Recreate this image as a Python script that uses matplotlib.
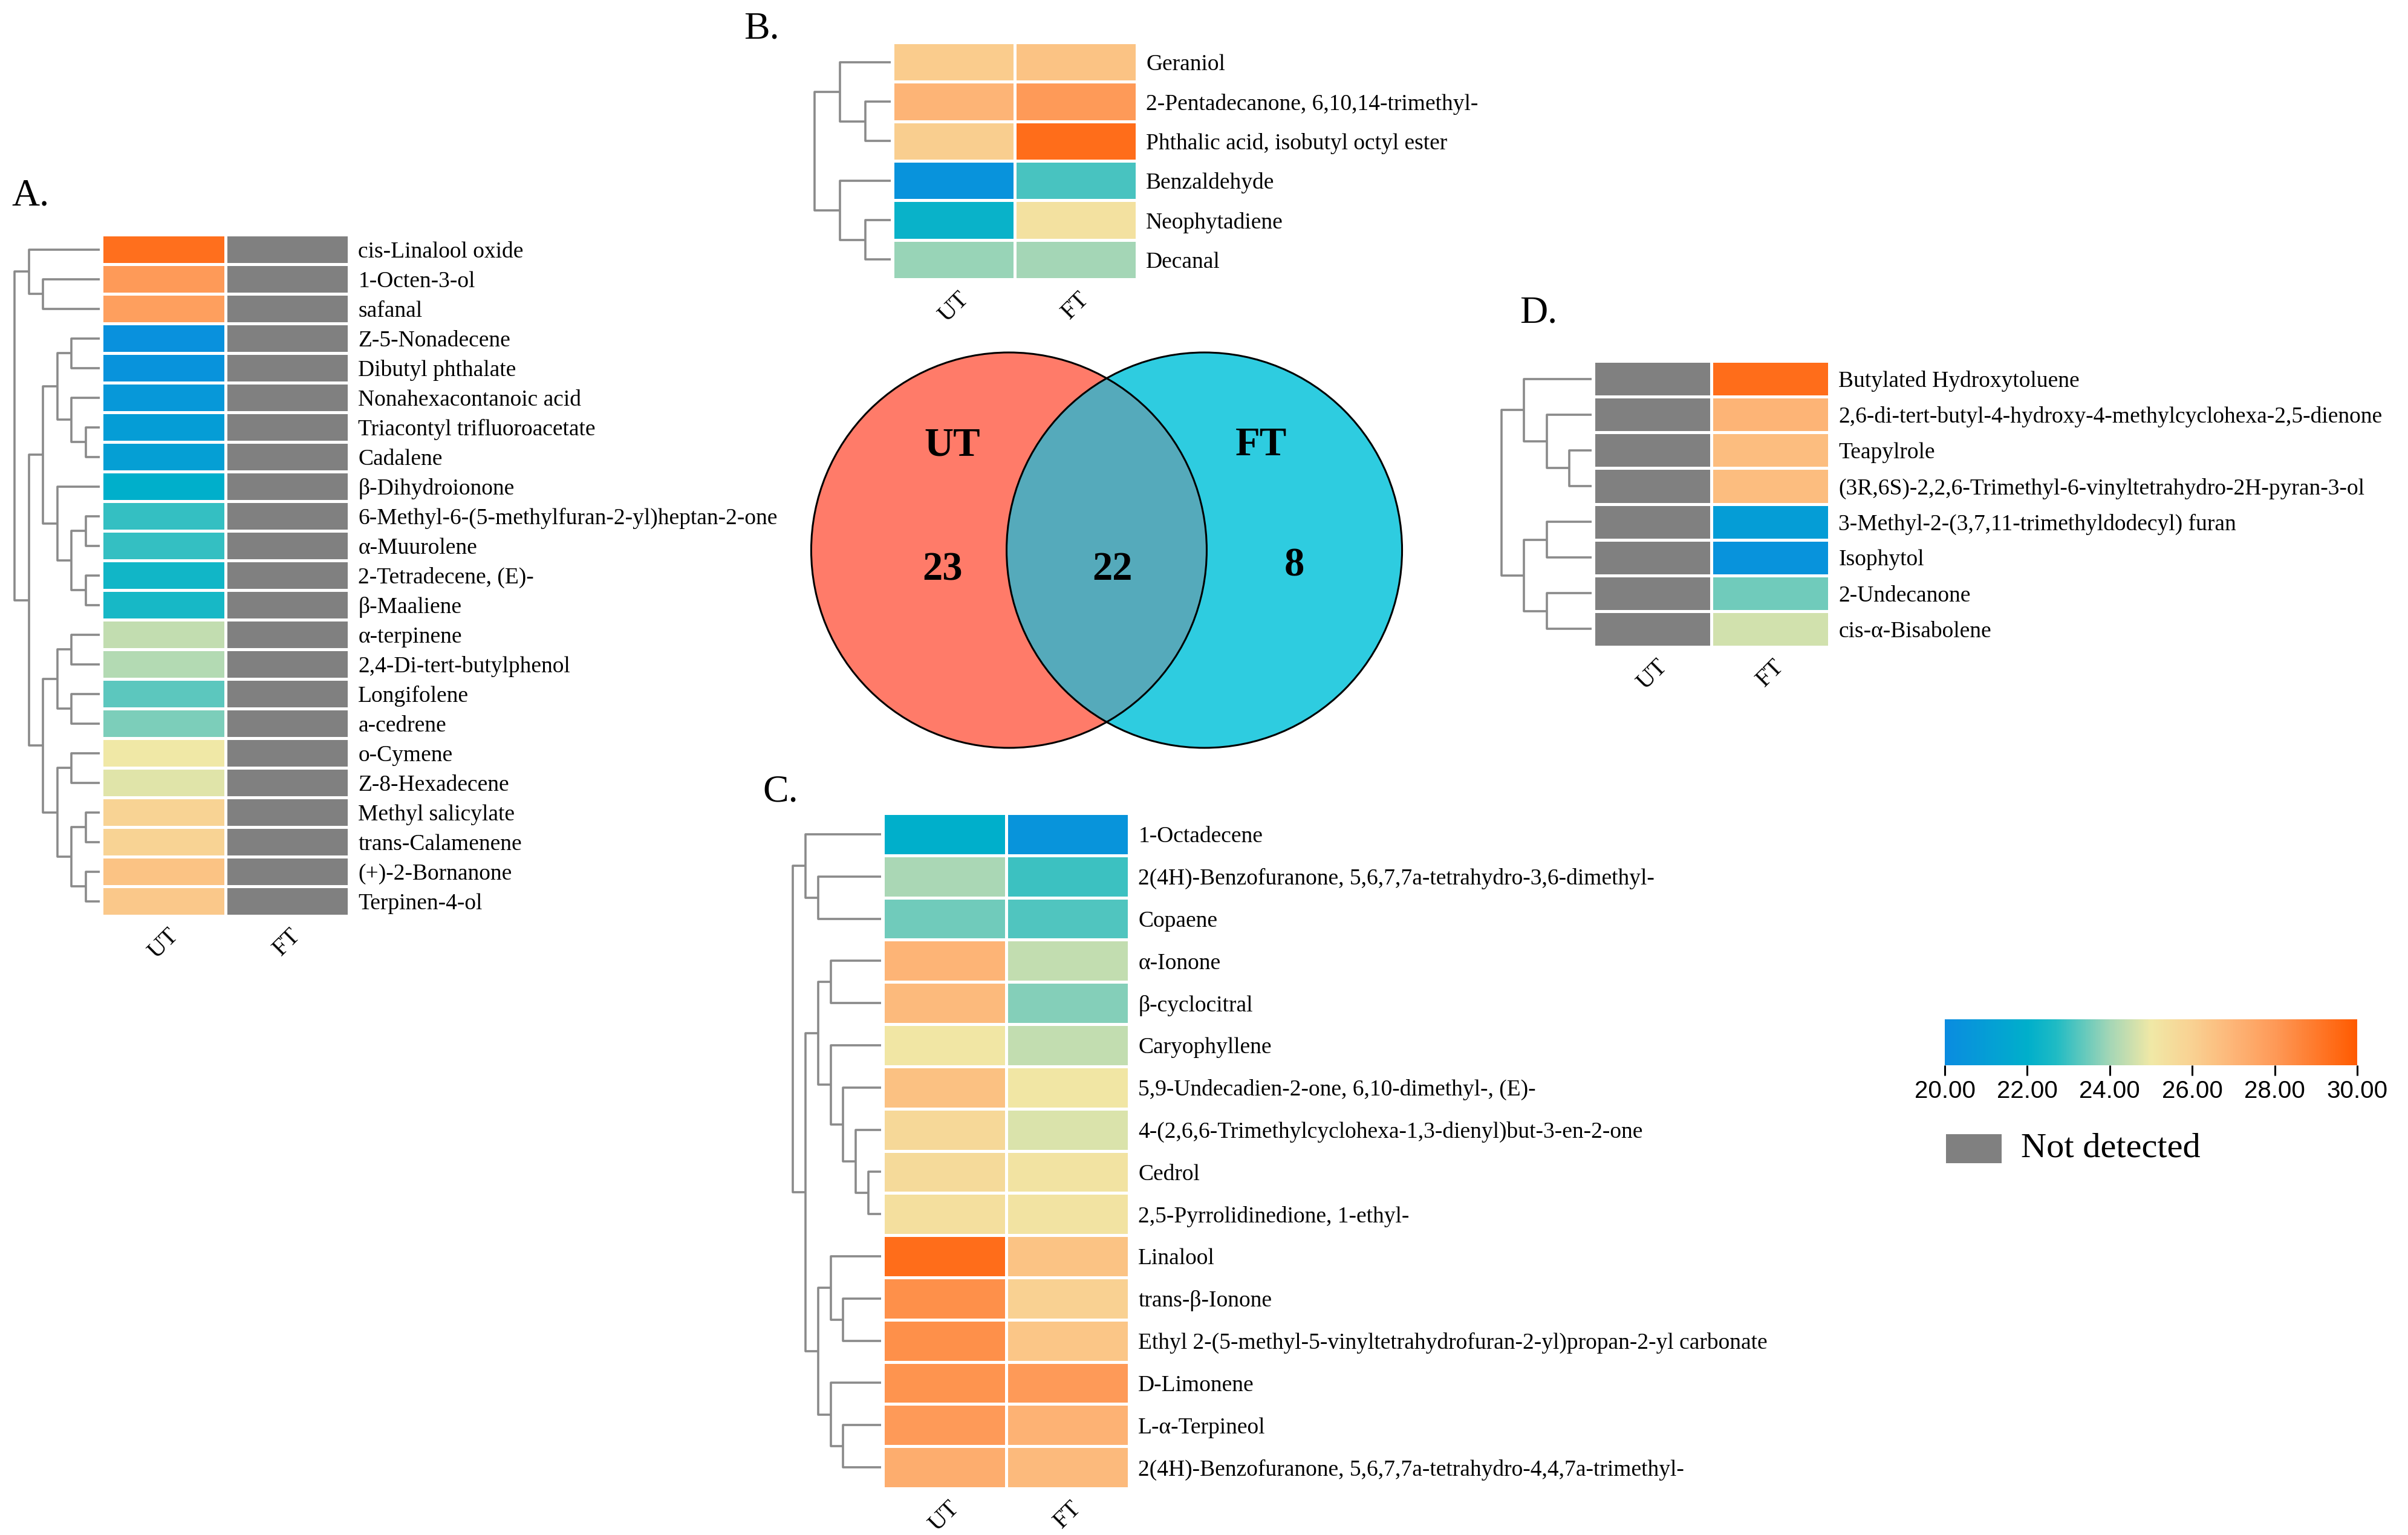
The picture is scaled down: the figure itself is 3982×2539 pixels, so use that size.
import numpy as np
import matplotlib
matplotlib.use('Agg')
from matplotlib import pyplot as plt
from matplotlib import colors, cm
from matplotlib.patches import Circle, Rectangle

# ---- data ----
cols = ['UT', 'FT']

names_A = ['cis-Linalool oxide', '1-Octen-3-ol', 'safanal', 'Z-5-Nonadecene', 'Dibutyl phthalate',
           'Nonahexacontanoic acid', 'Triacontyl trifluoroacetate', 'Cadalene', 'β-Dihydroionone',
           '6-Methyl-6-(5-methylfuran-2-yl)heptan-2-one', 'α-Muurolene', '2-Tetradecene, (E)-',
           'β-Maaliene', 'α-terpinene', '2,4-Di-tert-butylphenol', 'Longifolene', 'a-cedrene',
           'o-Cymene', 'Z-8-Hexadecene', 'Methyl salicylate', 'trans-Calamenene',
           '(+)-2-Bornanone', 'Terpinen-4-ol']
ut_A = [29.3, 28.0, 27.8, 20.3, 20.4, 20.7, 21.0, 21.1, 22.0, 22.9, 22.9, 22.4, 22.5,
        24.4, 24.2, 23.3, 23.6, 25.0, 24.8, 25.9, 25.9, 26.5, 26.3]
ft_A = [np.nan] * 23
link_A = [(1, 2, 4), (0, 23, 5), (3, 4, 2), (6, 7, 1), (5, 26, 2), (25, 27, 3), (9, 10, 1),
          (11, 12, 1), (29, 30, 2), (8, 31, 3), (28, 32, 4), (13, 14, 2), (15, 16, 2), (34, 35, 3),
          (17, 18, 2), (19, 20, 1), (21, 22, 1), (38, 39, 2), (37, 40, 3), (36, 41, 4),
          (33, 42, 5), (24, 43, 6)]

names_B = ['Geraniol', '2-Pentadecanone, 6,10,14-trimethyl-', 'Phthalic acid, isobutyl octyl ester',
           'Benzaldehyde', 'Neophytadiene', 'Decanal']
ut_B = [26.2, 27.0, 26.1, 20.4, 22.2, 23.9]
ft_B = [26.5, 28.0, 29.4, 23.1, 25.3, 24.0]
link_B = [(1, 2, 1), (0, 6, 2), (4, 5, 1), (3, 8, 2), (7, 9, 3)]

names_C = ['1-Octadecene', '2(4H)-Benzofuranone, 5,6,7,7a-tetrahydro-3,6-dimethyl-', 'Copaene',
           'α-Ionone', 'β-cyclocitral', 'Caryophyllene', '5,9-Undecadien-2-one, 6,10-dimethyl-, (E)-',
           '4-(2,6,6-Trimethylcyclohexa-1,3-dienyl)but-3-en-2-one', 'Cedrol',
           '2,5-Pyrrolidinedione, 1-ethyl-', 'Linalool', 'trans-β-Ionone',
           'Ethyl 2-(5-methyl-5-vinyltetrahydrofuran-2-yl)propan-2-yl carbonate', 'D-Limonene',
           'L-α-Terpineol', '2(4H)-Benzofuranone, 5,6,7,7a-tetrahydro-4,4,7a-trimethyl-']
ut_C = [22.0, 24.1, 23.5, 27.0, 26.8, 25.1, 26.6, 25.7, 25.6, 25.4, 29.4, 28.3, 28.3, 28.2, 28.0, 27.3]
ft_C = [20.5, 23.0, 23.2, 24.4, 23.7, 24.4, 25.1, 24.7, 25.2, 25.2, 26.5, 26.0, 26.4, 28.0, 27.1, 26.8]
link_C = [(1, 2, 5), (0, 16, 6), (3, 4, 4), (8, 9, 1), (7, 19, 2), (6, 20, 3), (5, 21, 4),
          (18, 22, 5), (11, 12, 3), (10, 24, 4), (14, 15, 3), (13, 26, 4), (25, 27, 5),
          (23, 28, 6), (17, 29, 7)]

names_D = ['Butylated Hydroxytoluene', '2,6-di-tert-butyl-4-hydroxy-4-methylcyclohexa-2,5-dienone',
           'Teapylrole', '(3R,6S)-2,2,6-Trimethyl-6-vinyltetrahydro-2H-pyran-3-ol',
           '3-Methyl-2-(3,7,11-trimethyldodecyl) furan', 'Isophytol', '2-Undecanone',
           'cis-α-Bisabolene']
ut_D = [np.nan] * 8
ft_D = [29.4, 27.0, 26.7, 26.7, 21.0, 20.4, 23.5, 24.6]
link_D = [(2, 3, 1), (1, 8, 2), (0, 9, 3), (4, 5, 2), (6, 7, 2), (11, 12, 3), (10, 13, 4)]

venn_sets = ['UT', 'FT']
venn_counts = [23, 22, 8]  # UT only, both, FT only

cbar_ticks = [20, 22, 24, 26, 28, 30]

# ---- style ----
W, H = 3982, 2539
serif = 'Liberation Serif'
sans = 'Liberation Sans'
cmap = colors.LinearSegmentedColormap.from_list(
    'hm', [(0.0, '#0A8CE0'), (0.2, '#00AFCB'), (0.27, '#1FBBC4'), (0.4, '#A4D6B6'),
           (0.5, '#F0E8A6'), (0.6, '#F9D192'), (0.7, '#FDB577'), (0.8, '#FE9A58'),
           (1.0, '#FF5A00')])
cmap.set_bad('#808080')
norm = colors.Normalize(20, 30)
dendro_col = '#8a8a8a'

fig = plt.figure(figsize=(W / 100, H / 100), dpi=100)


def box(x0, y0, x1, y1):
    return [x0 / W, 1 - y1 / H, (x1 - x0) / W, (y1 - y0) / H]


def dendro(ax, link, n):
    ys = {i: i + 0.5 for i in range(n)}
    hs = {i: 0 for i in range(n)}
    for k, (a, b, h) in enumerate(link):
        ax.plot([hs[a], h, h, hs[b]], [ys[a], ys[a], ys[b], ys[b]], color=dendro_col,
                lw=2.6, solid_capstyle='butt', clip_on=False)
        ys[n + k] = (ys[a] + ys[b]) / 2
        hs[n + k] = h
    top = max(h for _, _, h in link)
    ax.set_xlim(top, 0)
    ax.set_ylim(n, 0)
    ax.axis('off')


def heatmap(hbox, root_x, names, ut, ft, link):
    x0, y0, x1, y1 = hbox
    n = len(names)
    data = np.ma.masked_invalid(np.column_stack([ut, ft]))
    ax = fig.add_axes(box(x0, y0, x1, y1))
    ax.pcolormesh(np.arange(3), np.arange(n + 1), data, cmap=cmap, norm=norm,
                  edgecolors='white', linewidth=2.2)
    ax.set_xlim(0, 2)
    ax.set_ylim(n, 0)
    for s in ax.spines.values():
        s.set_visible(False)
    ax.yaxis.tick_right()
    ax.set_yticks(np.arange(n) + 0.5)
    ax.set_yticklabels(names, fontsize=27, family=serif)
    ax.set_xticks([0.5, 1.5])
    ax.set_xticklabels(cols, fontsize=29, family=serif, rotation=45, ha='center', va='top')
    ax.tick_params(length=0, pad=10)
    ax.tick_params(axis='y', pad=11)
    dax = fig.add_axes(box(root_x, y0, x0 - 3, y1))
    dendro(dax, link, n)
    return ax


heatmap((168, 388, 577, 1515), 24, names_A, ut_A, ft_A, link_A)
heatmap((1476, 70, 1880, 462), 1347, names_B, ut_B, ft_B, link_B)
heatmap((1460, 1345, 1867, 2462), 1311, names_C, ut_C, ft_C, link_C)
heatmap((2635, 597, 3025, 1070), 2483, names_D, ut_D, ft_D, link_D)

# panel letters
for lab, (px, py) in zip(['A.', 'B.', 'C.', 'D.'],
                         [(19, 325), (1230, 48), (1261, 1310), (2513, 518)]):
    fig.text(px / W, 1 - py / H, lab, fontsize=46, family=serif, va='center', ha='left')

# ---- venn ----
r = 327
vx0, vy0, vx1, vy1 = 1320, 570, 2340, 1250
vax = fig.add_axes(box(vx0, vy0, vx1, vy1))
vax.set_xlim(-(vx1 - vx0) / 2 / r, (vx1 - vx0) / 2 / r)
vax.set_ylim(-(vy1 - vy0) / 2 / r, (vy1 - vy0) / 2 / r)
vax.axis('off')
d = 0.494
left = Circle((-d, 0), 1, facecolor='#FF7B69', edgecolor='none')
right = Circle((d, 0), 1, facecolor='#2ECCE0', edgecolor='none')
vax.add_patch(left)
vax.add_patch(right)
lens = Circle((d, 0), 1, facecolor='#55AABB', edgecolor='none')
vax.add_patch(lens)
lens.set_clip_path(left)
for cx in (-d, d):
    vax.add_patch(Circle((cx, 0), 1, facecolor='none', edgecolor='black', lw=2.2))
vax.text(-0.78, 0.53, venn_sets[0], fontsize=48, fontweight='bold', family=serif, ha='center', va='center')
vax.text(0.78, 0.53, venn_sets[1], fontsize=48, fontweight='bold', family=serif, ha='center', va='center')
for xx, yy, c in zip([-0.83, 0.03, 0.95], [-0.10, -0.10, -0.08], venn_counts):
    vax.text(xx, yy, str(c), fontsize=48, fontweight='bold', family=serif, ha='center', va='center')

# ---- colorbar ----
cax = fig.add_axes(box(3216, 1686, 3898, 1762))
cb = fig.colorbar(cm.ScalarMappable(norm=norm, cmap=cmap), cax=cax, orientation='horizontal',
                  ticks=cbar_ticks, format='%.2f')
cb.outline.set_visible(False)
cax.tick_params(length=12, width=2.2, labelsize=29, pad=5)
for t in cax.get_xticklabels():
    t.set_family(sans)

# not detected legend
lax = fig.add_axes(box(3218, 1876, 3310, 1924))
lax.add_patch(Rectangle((0, 0), 1, 1, facecolor='#808080', edgecolor='none'))
lax.set_xlim(0, 1)
lax.set_ylim(0, 1)
lax.axis('off')
fig.text(3342 / W, 1 - 1900 / H, 'Not detected', fontsize=42, family=serif, va='center', ha='left')

fig.savefig('out.png', dpi=100, facecolor='white')
